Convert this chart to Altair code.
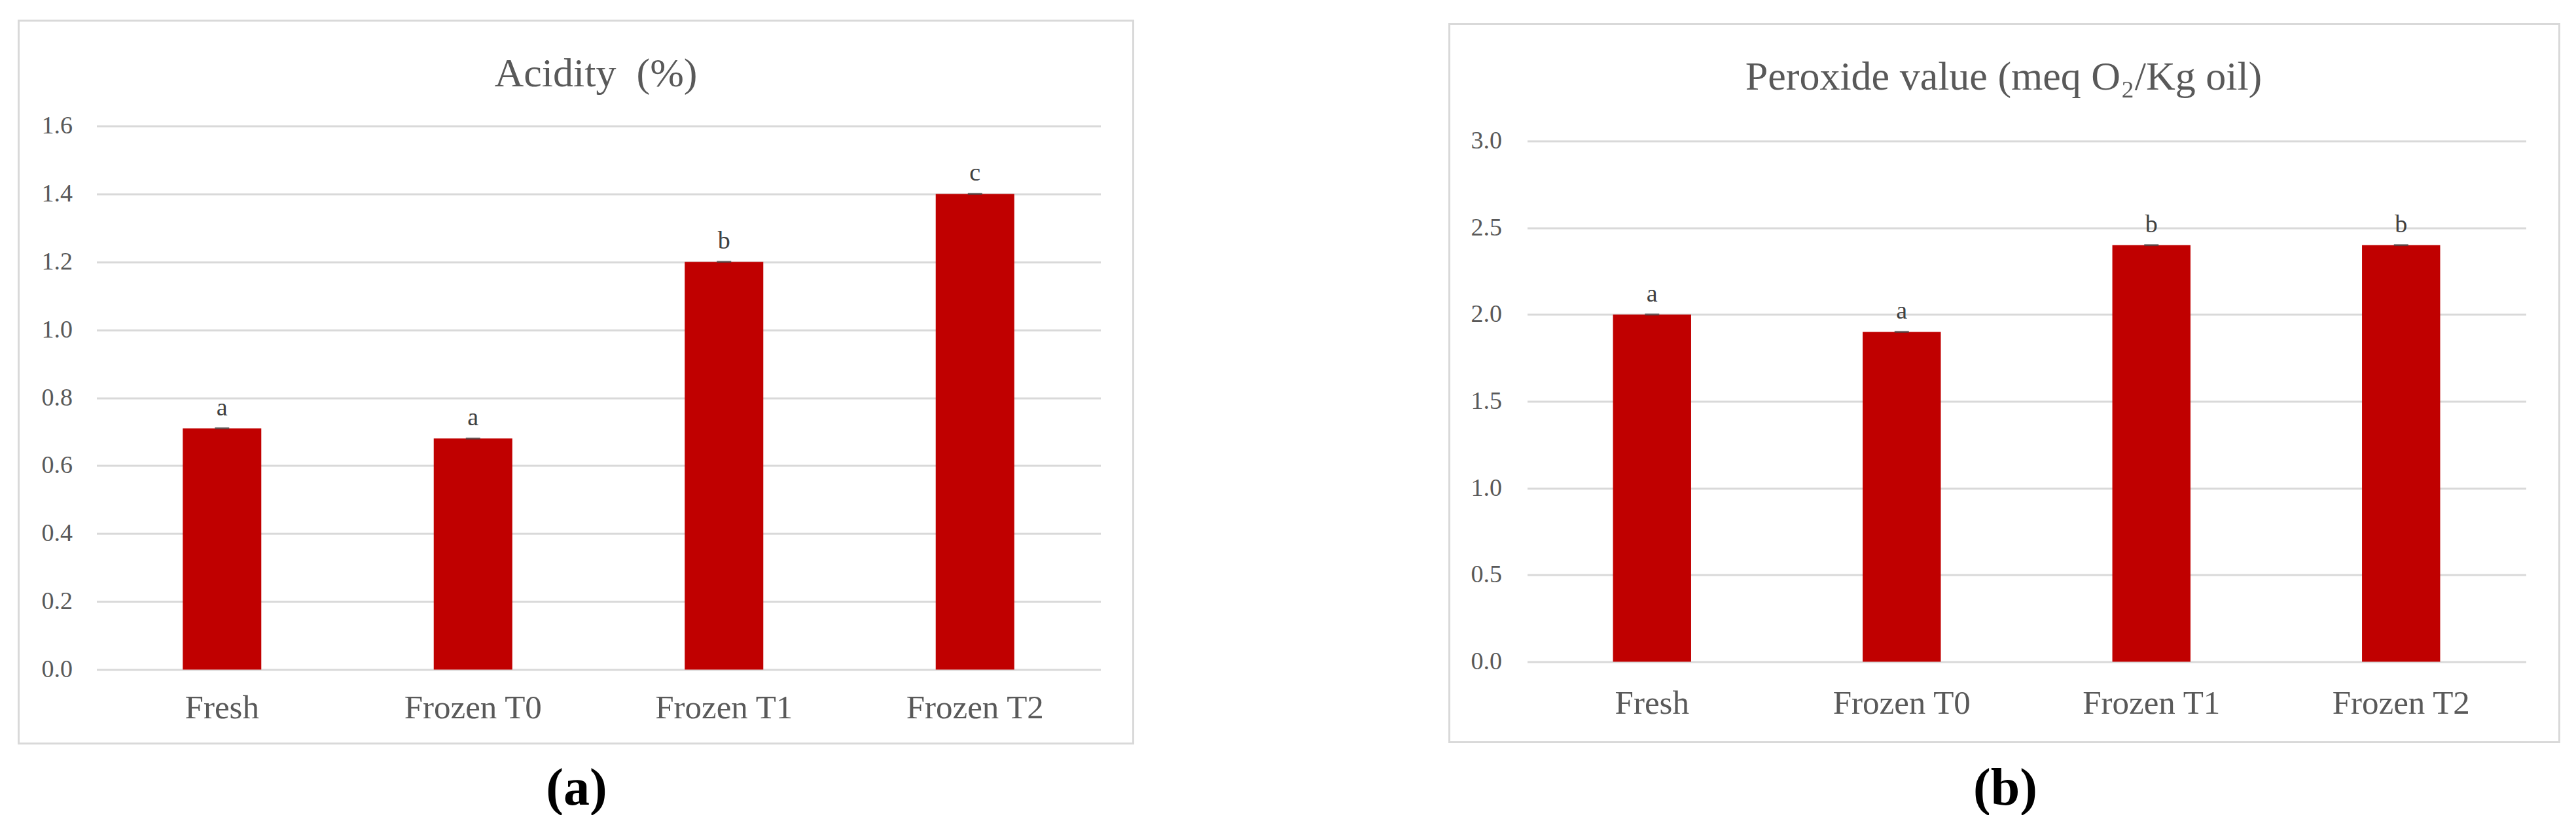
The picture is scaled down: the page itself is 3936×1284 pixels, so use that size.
import altair as alt
import pandas as pd

categories = ["Fresh", "Frozen T0", "Frozen T1", "Frozen T2"]

acidity = [0.71, 0.68, 1.20, 1.40]
acidity_letters = ["a", "a", "b", "c"]
acidity_ticks = [0.0, 0.2, 0.4, 0.6, 0.8, 1.0, 1.2, 1.4, 1.6]

peroxide = [2.00, 1.90, 2.40, 2.40]
peroxide_letters = ["a", "a", "b", "b"]
peroxide_ticks = [0.0, 0.5, 1.0, 1.5, 2.0, 2.5, 3.0]

title_a = "Acidity\u00a0\u00a0(%)"
title_b = "Peroxide value (meq O\u2082/Kg oil)"

FONT = "Liberation Serif"
GRAY = "#595959"
GRID = "#d9d9d9"
RED = "#C00000"


def panel(values, letters, ticks, ymax, title, title_x, title_y, tag, tag_x, tag_y,
          w, h, frame, x_label_pad, y_label_pad):
    df = pd.DataFrame({"cat": categories, "val": values, "let": letters})
    x = alt.X(
        "cat:N", sort=categories,
        scale=alt.Scale(paddingInner=0, paddingOuter=0),
        axis=alt.Axis(
            title=tag, labelAngle=0, labelFont=FONT, labelFontSize=51,
            labelColor=GRAY, labelBaseline="alphabetic", labelPadding=x_label_pad,
            labelLimit=0, labelOverlap=False,
            domain=False, ticks=False, tickSize=0, grid=False,
            titleFont=FONT, titleFontSize=80, titleFontWeight="bold",
            titleColor="#000000", titleX=tag_x, titleY=tag_y,
            titleBaseline="alphabetic", titleAlign="center",
        ),
    )
    y = alt.Y(
        "val:Q",
        scale=alt.Scale(domain=[0, ymax], nice=False, zero=True),
        axis=alt.Axis(
            values=ticks, format=".1f", title=None, labelFont=FONT,
            labelFontSize=38, labelColor=GRAY, labelPadding=y_label_pad,
            domain=False, ticks=False, tickSize=0, grid=True,
            gridColor=GRID, gridWidth=3,
        ),
    )
    base = alt.Chart(df)
    bars = base.mark_bar(color=RED, width=alt.RelativeBandSize(0.313)).encode(x=x, y=y)
    caps = base.mark_tick(color="#404040", thickness=3, size=22).encode(x=x, y=y)
    letters_layer = base.mark_text(
        font=FONT, fontSize=38, color="#404040", baseline="alphabetic", dy=-20
    ).encode(x=x, y=y, text="let:N")
    ttl = alt.Chart(pd.DataFrame({"t": [title]})).mark_text(
        font=FONT, fontSize=62, color=GRAY, baseline="alphabetic", align="center"
    ).encode(x=alt.value(title_x), y=alt.value(title_y), text="t:N")
    box = alt.Chart(pd.DataFrame({"k": [0]})).mark_rect(
        fill="white", fillOpacity=0, stroke=GRID, strokeWidth=3
    ).encode(
        x=alt.value(frame[0]), x2=alt.value(frame[1]),
        y=alt.value(frame[2]), y2=alt.value(frame[3]),
    )
    return alt.layer(box, bars, caps, letters_layer, ttl).properties(width=w, height=h)


pa = panel(acidity, acidity_letters, acidity_ticks, 1.6, title_a, 763, -61,
           "(a)", 733, 206, 1534, 831, (-119, 1584, -161, 944), 74, 37)
pb = panel(peroxide, peroxide_letters, peroxide_ticks, 3.0867, title_b, 728, -56,
           "(b)", 730, 218, 1526, 819, (-119, 1577, -156, 942), 79, 39)

chart = alt.hconcat(pa, pb, spacing=479).properties(
    padding={"left": 18.5, "top": 21.5, "right": 0, "bottom": 0}
).configure_view(stroke=None)

chart.save("out.html", embed_options={"renderer": "svg", "actions": False})
